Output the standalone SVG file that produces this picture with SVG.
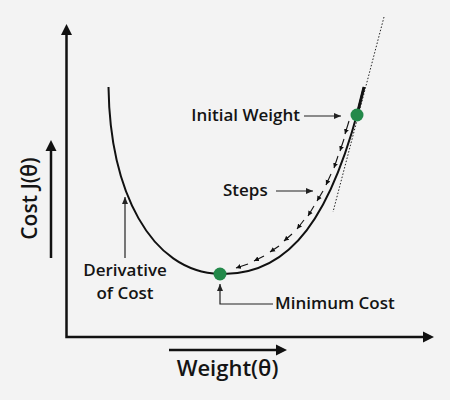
<svg xmlns="http://www.w3.org/2000/svg" width="450" height="400" viewBox="0 0 450 400">
<style>
.t{font-family:"Open Sans","Noto Sans","Liberation Sans",sans-serif;font-weight:600;fill:#141414}
.lbl{font-size:17px}
.axis{stroke:#111;stroke-width:2.5;fill:none}
.ptr{stroke:#222;stroke-width:1.2;fill:none}
.step{stroke:#111;stroke-width:1.1;fill:none;marker-end:url(#sh)}
.dot{fill:#23894a}
</style>
<defs>
<marker id="sh" markerUnits="userSpaceOnUse" markerWidth="6" markerHeight="6" refX="5" refY="3" orient="auto"><path d="M0,0.5 L5,3 L0,5.5 Z" fill="#111"/></marker>
<marker id="ph" markerUnits="userSpaceOnUse" markerWidth="8" markerHeight="8" refX="7" refY="4" orient="auto"><path d="M0,1 L7,4 L0,7 Z" fill="#222"/></marker>
</defs>
<rect width="450" height="400" fill="#f3f3f3"/>
<g id="axes">
<path class="axis" d="M66.5,33 V337 H424"/>
<path d="M61,35 L66.5,24 L72,35 Z" fill="#111"/>
<path d="M423,331.5 L434,337 L423,342.5 Z" fill="#111"/>
<path class="axis" d="M51,258 V149"/>
<path d="M45.5,151 L51,140 L56.5,151 Z" fill="#111"/>
<path class="axis" d="M169,350 H278"/>
<path d="M276,344.5 L287,350 L276,355.5 Z" fill="#111"/>
<text class="t" font-size="21" transform="translate(37,198.5) rotate(-90)" text-anchor="middle">Cost J(θ)</text>
<text class="t" font-size="22" x="227.5" y="376" text-anchor="middle">Weight(θ)</text>
</g>
<g id="curve">
<path d="M108.5,87 C110,190 150,272 220,274 C290,276 333,218 364,87" fill="none" stroke="#111" stroke-width="2"/>
<path d="M357,115 L364,87" stroke="#111" stroke-width="3" fill="none"/>
<path d="M384,17 L333,212" stroke="#222" stroke-width="1" stroke-dasharray="1.5,1.8" fill="none"/>
</g>
<g id="connectors">
<path class="ptr" d="M304,116 H341" stroke="#555" marker-end="url(#ph)"/>
<path class="ptr" d="M276,191 H313" marker-end="url(#ph)"/>
<path class="ptr" d="M125,258 V197" marker-end="url(#ph)"/>
<path class="ptr" d="M273,304 H220 V284" marker-end="url(#ph)"/>
<path class="step" d="M349,121 L345,134"/>
<path class="step" d="M344,139 L340,151"/>
<path class="step" d="M338,156 L334,168"/>
<path class="step" d="M331,174 L326,185"/>
<path class="step" d="M323,191 L317,201"/>
<path class="step" d="M314,206 L308,216"/>
<path class="step" d="M304,220 L297,229"/>
<path class="step" d="M292,234 L284,241"/>
<path class="step" d="M279,246 L270,252"/>
<path class="step" d="M264,256 L254,261"/>
<path class="step" d="M248,264 L236,268"/>
</g>
<g id="initial-weight">
<circle class="dot" cx="357" cy="115" r="6.5"/>
<text class="t lbl" x="300" y="121" text-anchor="end">Initial Weight</text>
</g>
<g id="minimum-cost">
<circle class="dot" cx="220" cy="274" r="6.5"/>
<text class="t lbl" x="275" y="309">Minimum Cost</text>
</g>
<g id="steps">
<text class="t lbl" x="223" y="196">Steps</text>
</g>
<g id="derivative">
<text class="t lbl" x="125" y="276" text-anchor="middle">Derivative</text>
<text class="t lbl" x="125" y="299" text-anchor="middle">of Cost</text>
</g>
</svg>
